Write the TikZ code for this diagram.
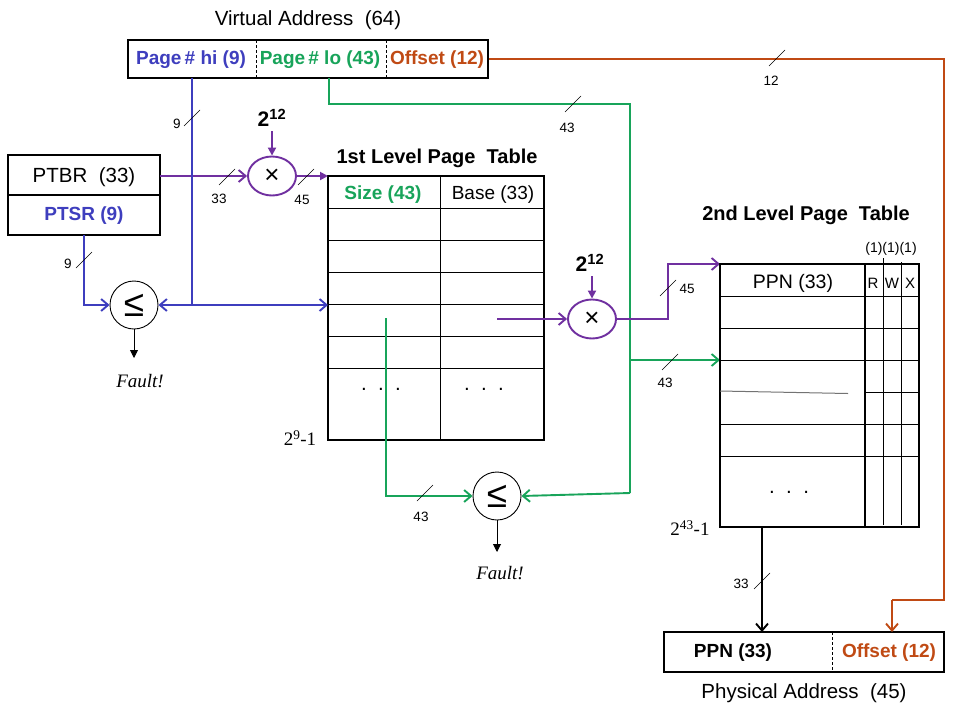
\documentclass[tikz,border=0pt]{standalone}
\usepackage{fontspec}
\setmainfont{Liberation Sans}
\newfontfamily\seriffam{Liberation Serif}
\usetikzlibrary{arrows.meta,shapes.geometric}
\newcommand\fsz[1]{\fontsize{#1}{#1}\selectfont}
\newcommand\busmark[2]{\draw[slashmk] (#1,#2) ++(-8,8) -- ++(16,-16);}
\definecolor{vblue}{RGB}{62,62,190}
\definecolor{vgreen}{RGB}{24,164,90}
\definecolor{vpurple}{RGB}{112,48,160}
\definecolor{vorange}{RGB}{192,74,20}
\tikzset{
  wire/.style={line width=1.9pt},
  barb/.style={-{Straight Barb[length=7pt,width=12pt]}},
  tri/.style={-{Triangle[length=8pt,width=8pt]}},
  frame/.style={draw, line width=2pt, inner sep=0pt},
  gridl/.style={line width=0.9pt},
  slashmk/.style={line width=0.6pt},
  num/.style={font=\fsz{13.5}},
  ttl/.style={font=\fsz{20.5}},
  bttl/.style={font=\bfseries\fsz{20}},
  fld/.style={font=\bfseries\fsz{19}},
  cmp/.style={draw, circle, line width=0.9pt, minimum size=48pt, inner sep=0pt, font=\fsz{37}},
  mul/.style={draw=vpurple, ellipse, line width=1.9pt, minimum width=48pt, minimum height=39pt, inner sep=0pt, font=\fsz{26}},
  fault/.style={font=\seriffam\itshape\fsz{19}},
  two12/.style={font=\bfseries\fsz{21}},
}
\begin{document}
\begin{tikzpicture}[x=1pt,y=-1pt]
\fill[white] (0,0) rectangle (960,720);
\useasboundingbox (0,0) rectangle (960,720);

% ---------- Virtual address ----------
\node[ttl] (vatitle) at (308,20) {Virtual Address\ \ (64)};
\node[frame, minimum width=360pt, minimum height=38pt] (va) at (308,59) {};
\draw[gridl, dash pattern=on 3pt off 2pt] (256,40) -- (256,78);
\draw[gridl, dash pattern=on 3pt off 2pt] (386,40) -- (386,78);
\node[fld, text=vblue] (vahi) at (191,60) {Page\,\# hi (9)};
\node[fld, text=vgreen] (valo) at (320,60) {Page\,\# lo (43)};
\node[fld, text=vorange] (vaoff) at (437,60) {Offset (12)};
\coordinate (hiout) at (192,78);
\coordinate (loout) at (329,78);

% ---------- PTBR / PTSR ----------
\node[frame, minimum width=152pt, minimum height=80pt] (ptbr) at (84,195) {};
\draw[line width=2pt] (ptbr.west) -- (ptbr.east);
\node[ttl] (ptbrtxt) at (84,177) {PTBR\ \ (33)};
\node[fld, text=vblue] (ptsrtxt) at (84,216) {PTSR (9)};
\coordinate (ptbrout) at (160,176);
\coordinate (ptsrout) at (84,235);

% ---------- multiplier 1 ----------
\node[mul] (m1) at (272,176) {×};
\node[two12] (p1) at (272,118) {2\textsuperscript{12}};
\draw[wire, vpurple, tri] (272,131) -- (m1.north);
\draw[wire, vpurple, barb] (ptbrout) -- (m1.west);
\busmark{227}{177}
\node[num] (n33a) at (219,199) {33};

% ---------- 1st level table ----------
\node[bttl] (t1title) at (437,158) {1st Level Page\ \ Table};
\node[frame, minimum width=216pt, minimum height=264pt] (t1) at (436,308) {};
\draw[gridl] (440,176) -- (440,440);
\foreach \yy in {208,240,272,304,336,368} \draw[gridl] (328,\yy) -- (544,\yy);
\node[fld, text=vgreen] (sz) at (383,195) {Size (43)};
\node[font=\fsz{19}] (bs) at (493,195) {Base (33)};
\node[ttl] (d1) at (381,389) {.\ \ .\ \ .};
\node[ttl] (d2) at (484,389) {.\ \ .\ \ .};
\node[font=\seriffam\fsz{19}] (t1max) at (300,438) {2\textsuperscript{9}-1};

\coordinate (t1tl) at (328,176);
\draw[wire, vpurple, tri] (m1.east) -- (t1tl);
\busmark{306}{177}
\node[num] (n45a) at (302,200) {45};

% ---------- comparator 1 ----------
\node[cmp] (c1) at (134,305) {≤};
\coordinate (bj) at (192,305);
\coordinate (t1in) at (328,305);
\draw[wire, vblue] (hiout) -- (bj);
\draw[wire, vblue, barb] (bj) -- (c1.east);
\draw[wire, vblue, barb] (bj) -- (t1in);
\busmark{192}{118}
\node[num] (n9a) at (177,124) {9};
\draw[wire, vblue, barb] (ptsrout) |- (c1.west);
\busmark{84}{260}
\node[num] (n9b) at (68,264) {9};
\coordinate (f1) at (134,358);
\draw[line width=0.9pt, tri] (c1.south) -- (f1);
\node[fault] (f1t) at (140,381) {Fault!};

% ---------- green path ----------
\coordinate (g1) at (329,104);
\coordinate (g2) at (630,104);
\coordinate (g3) at (630,493);
\coordinate (gb) at (630,360);
\node[cmp] (c2) at (497,496) {≤};
\draw[wire, vgreen] (loout) -- (g1) -- (g2) -- (g3);
\draw[wire, vgreen, barb] (g3) -- (c2.east);
\busmark{573}{104}
\node[num] (n43a) at (567,128) {43};
\coordinate (szout) at (386,318);
\draw[wire, vgreen, barb] (szout) |- (c2.west);
\busmark{425}{493}
\node[num] (n43b) at (421,517) {43};
\coordinate (f2) at (497,552);
\draw[line width=0.9pt, tri] (c2.south) -- (f2);
\node[fault] (f2t) at (500,573) {Fault!};

% ---------- multiplier 2 ----------
\node[mul] (m2) at (592,319) {×};
\node[two12] (p2) at (590,263) {2\textsuperscript{12}};
\draw[wire, vpurple, tri] (592,276) -- (m2.north);
\coordinate (bsout) at (497,319);
\draw[wire, vpurple, barb] (bsout) -- (m2.west);
\coordinate (pk1) at (668,319);
\coordinate (pk2) at (668,264);
\coordinate (t2in) at (720,264);
\draw[wire, vpurple, barb] (m2.east) -- (pk1) -- (pk2) -- (t2in);
\busmark{668}{288}
\node[num] (n45b) at (687,289) {45};

\coordinate (t2in2) at (720,360);
\draw[wire, vgreen, barb] (gb) -- (t2in2);
\busmark{670}{362}
\node[num] (n43c) at (665,383) {43};

% ---------- 2nd level table ----------
\node[bttl] (t2title) at (806,215) {2nd Level Page\ \ Table};
\node[frame, minimum width=199pt, minimum height=263pt] (t2) at (819.5,395.5) {};
\draw[line width=1.6pt] (865,264) -- (865,527);
\draw[line width=0.7pt] (883,258) -- (883,525);
\draw[line width=0.7pt] (901,262) -- (901,525);
\foreach \yy in {296,328,360,424,456} \draw[gridl] (720,\yy) -- (919,\yy);
\draw[line width=1pt, black!55] (720,391) -- (848,393.5);
\draw[gridl] (865,392) -- (919,392);
\node[font=\fsz{19.5}] (ppnh) at (793,283) {PPN (33)};
\node[font=\fsz{15}] (rr) at (873,283) {R};
\node[font=\fsz{15}] (ww) at (892,283) {W};
\node[font=\fsz{15}] (xx) at (910,283) {X};
\node[font=\fsz{14}, inner sep=0pt] (ones) at (891,249) {(1)(1)(1)};
\node[ttl] (d3) at (789,492) {.\ \ .\ \ .};
\node[font=\seriffam\fsz{19}] (t2max) at (690,528) {2\textsuperscript{43}-1};

% ---------- physical address ----------
\node[frame, minimum width=280pt, minimum height=40pt] (pa) at (804,652) {};
\draw[gridl, dash pattern=on 3pt off 2pt] (832,632) -- (832,672);
\node[fld] (pappn) at (733,653) {PPN (33)};
\node[fld, text=vorange] (paoff) at (889,653) {Offset (12)};
\node[ttl] (patitle) at (804,693) {Physical Address\ \ (45)};

\coordinate (t2out) at (762,527);
\coordinate (pain) at (762,632);
\draw[line width=1.9pt, barb] (t2out) -- (pain);
\busmark{762}{581}
\node[num] (n33b) at (741,584) {33};

% ---------- orange offset path ----------
\coordinate (o1) at (944,59);
\coordinate (o2) at (944,600);
\coordinate (o3) at (892,600);
\coordinate (o4) at (892,632);
\draw[wire, vorange] (va.east) -- (o1) -- (o2) -- (o3);
\draw[wire, vorange, barb] (o3) -- (o4);
\busmark{777}{58}
\node[num] (n12) at (771,81) {12};
\end{tikzpicture}
\end{document}
